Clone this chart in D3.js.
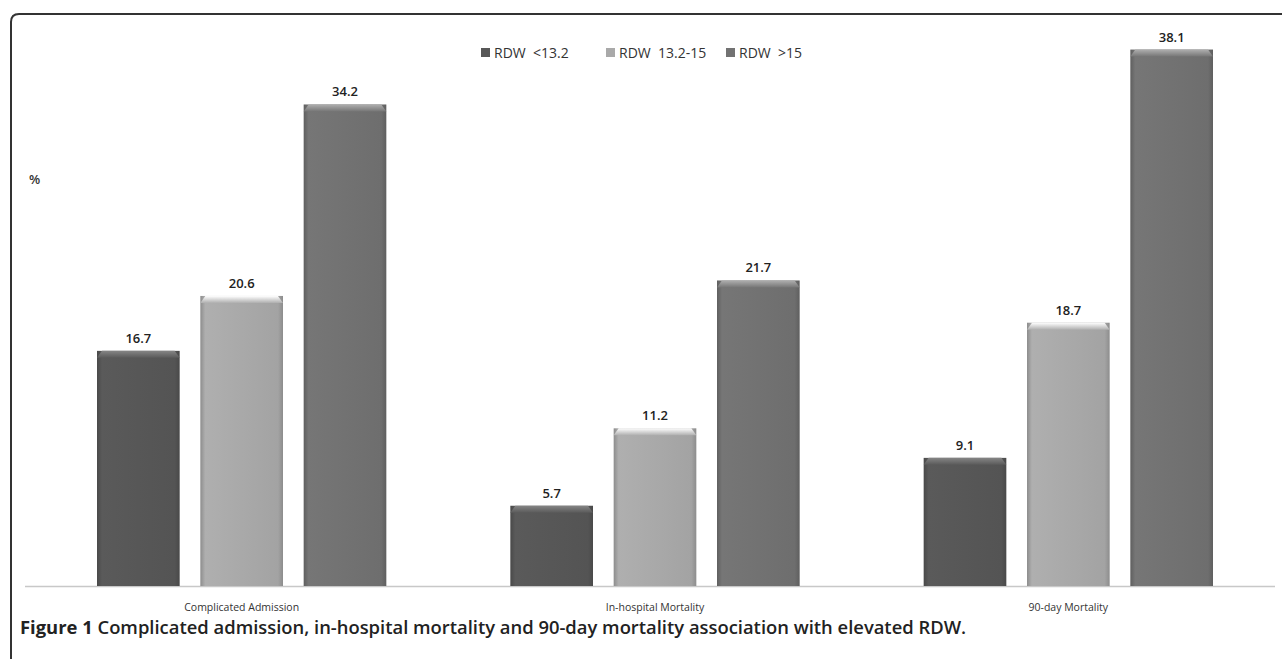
<!DOCTYPE html>
<html><head><meta charset="utf-8">
<script src="https://cdn.jsdelivr.net/npm/d3@7"></script>
<style>body{margin:0;background:#fff;}svg{display:block;}</style>
</head><body>
<svg id="c" width="1282" height="659"></svg>
<script>
const categories = ["Complicated Admission", "In-hospital Mortality", "90-day Mortality"];
const seriesNames = ["RDW  <13.2", "RDW  13.2-15", "RDW  >15"];
const seriesLow = [16.7, 5.7, 9.1];
const seriesMid = [20.6, 11.2, 18.7];
const seriesHigh = [34.2, 21.7, 38.1];
const colors = ["#575757", "#a9a9a9", "#727272"];
const caption = ["Figure 1", " Complicated admission, in-hospital mortality and 90-day mortality association with elevated RDW."];

const series = [seriesLow, seriesMid, seriesHigh];
const svg = d3.select("#c");

// frame
svg.append("path")
  .attr("d", "M11,659 L11,22 Q11,14 19,14 L1282,14")
  .attr("fill", "none").attr("stroke", "#333").attr("stroke-width", 2);

const defs = svg.append("defs");
colors.forEach((c, i) => {
  const g = defs.append("linearGradient").attr("id", "g" + i).attr("x1", 0).attr("x2", 1).attr("y1", 0).attr("y2", 0);
  const base = d3.color(c);
  g.append("stop").attr("offset", "0%").attr("stop-color", base.darker(0.5));
  g.append("stop").attr("offset", "6%").attr("stop-color", base.brighter(0.1));
  g.append("stop").attr("offset", "50%").attr("stop-color", base);
  g.append("stop").attr("offset", "94%").attr("stop-color", base.darker(0.1));
  g.append("stop").attr("offset", "100%").attr("stop-color", base.darker(0.5));
  const t = defs.append("linearGradient").attr("id", "t" + i).attr("x1", 0).attr("x2", 0).attr("y1", 0).attr("y2", 1);
  t.append("stop").attr("offset", "0%").attr("stop-color", base.brighter(1.2));
  t.append("stop").attr("offset", "100%").attr("stop-color", base.brighter(0.1));
});

const x0 = d3.scaleBand().domain(categories).range([35, 1275]).padding(0);
const x1 = d3.scaleBand().domain(d3.range(3)).range([0, x0.bandwidth()]).paddingInner(0.2).paddingOuter(0.6);
const y = d3.scaleLinear().domain([0, 40]).range([586, 22.8]);

// axis baseline
svg.append("line").attr("x1", 25).attr("x2", 1275).attr("y1", y(0) + 0.5).attr("y2", y(0) + 0.5)
  .attr("stroke", "#c8c8c8").attr("stroke-width", 1.5);

categories.forEach((cat, ci) => {
  series.forEach((s, si) => {
    const bx = x0(cat) + x1(si), bw = x1.bandwidth(), by = y(s[ci]), bh = y(0) - y(s[ci]);
    svg.append("rect").attr("x", bx).attr("y", by).attr("width", bw).attr("height", bh)
      .attr("fill", `url(#g${si})`);
    svg.append("path")
      .attr("d", `M${bx},${by + 7} L${bx + 5},${by} L${bx + bw - 5},${by} L${bx + bw},${by + 7} Z`)
      .attr("fill", `url(#t${si})`);
    svg.append("text").attr("x", bx + bw / 2).attr("y", by - 8)
      .attr("text-anchor", "middle").attr("font-family", "Open Sans, sans-serif")
      .attr("font-size", 13).attr("font-weight", 600).attr("fill", "#222")
      .text(s[ci].toFixed(1));
  });
  svg.append("text").attr("x", x0(cat) + x0.bandwidth() / 2).attr("y", 611)
    .attr("text-anchor", "middle").attr("font-family", "Open Sans, sans-serif")
    .attr("font-size", 10.5).attr("fill", "#333").text(cat);
});

// % label
svg.append("text").attr("x", 29).attr("y", 184).attr("font-family", "Open Sans, sans-serif")
  .attr("font-size", 13).attr("font-weight", 600).attr("fill", "#333").text("%");

// legend
const legX = [481, 606, 726];
seriesNames.forEach((n, i) => {
  svg.append("rect").attr("x", legX[i]).attr("y", 48).attr("width", 9).attr("height", 9).attr("fill", colors[i]);
  svg.append("text").attr("x", legX[i] + 13).attr("y", 58).attr("font-family", "Open Sans, sans-serif")
    .attr("font-size", 14).attr("fill", "#333").attr("xml:space", "preserve").text(n);
});

// caption
const cap = svg.append("text").attr("x", 20).attr("y", 634).attr("font-family", "Open Sans, sans-serif")
  .attr("font-size", 18.4).attr("fill", "#222");
cap.append("tspan").attr("font-weight", 700).text(caption[0]);
cap.append("tspan").attr("font-weight", 600).text(caption[1]);
</script>
</body></html>
